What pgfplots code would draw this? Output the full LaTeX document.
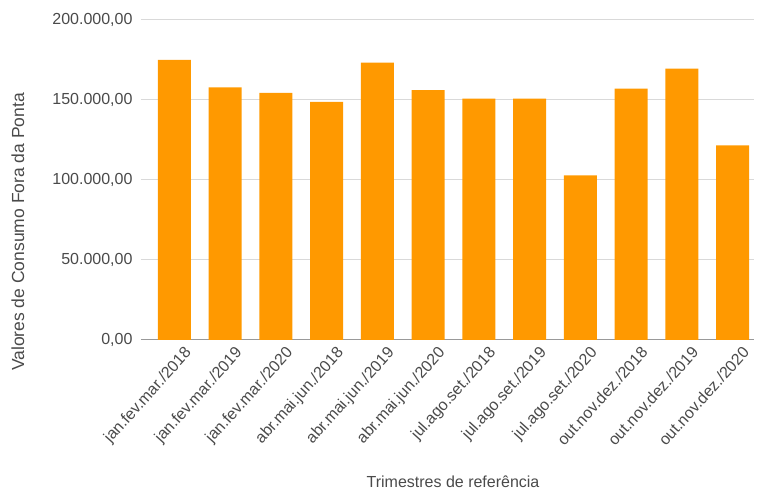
\documentclass[border=0pt]{standalone}
\usepackage{pgfplots}
\pgfplotsset{compat=1.18}
\usepackage{fontspec}
\setmainfont{Liberation Sans}
\definecolor{barorange}{HTML}{FF9900}
\definecolor{gridgray}{HTML}{D9D9D9}
\definecolor{axisgray}{HTML}{999999}
\definecolor{txtgray}{HTML}{4A4A4A}
\begin{document}
\begin{tikzpicture}
\useasboundingbox (-141pt,-154pt) rectangle (617pt,340pt);
\begin{axis}[
  at={(0pt,0pt)}, anchor=south west,
  scale only axis, width=613pt, height=320pt,
  ybar, bar width=0.65, bar shift=0pt,
  xmin=-0.66, xmax=11.42,
  ymin=0, ymax=200000,
  scaled y ticks=false,
  ytick={0,50000,100000,150000,200000},
  yticklabels={{0,00},{50.000,00},{100.000,00},{150.000,00},{200.000,00}},
  xtick={0,...,11},
  xticklabels={jan.fev.mar./2018,jan.fev.mar./2019,jan.fev.mar./2020,abr.mai.jun./2018,abr.mai.jun./2019,abr.mai.jun./2020,jul.ago.set./2018,jul.ago.set./2019,jul.ago.set./2020,out.nov.dez./2018,out.nov.dez./2019,out.nov.dez./2020},
  major tick length=0pt,
  ymajorgrids, grid style={gridgray, line width=1pt},
  axis x line*=bottom, axis y line*=left,
  x axis line style={axisgray, line width=1pt, -},
  y axis line style={draw=none},
  yticklabel style={font=\fontsize{16}{19}\selectfont, text=txtgray, xshift=-5pt},
  xticklabel style={font=\fontsize{16}{19}\selectfont, text=txtgray, rotate=48, anchor=north east, inner sep=2pt, yshift=-8pt, xshift=4pt},
  xlabel={Trimestres de referência},
  ylabel={Valores de Consumo Fora da Ponta},
  xlabel style={font=\fontsize{16}{19}\selectfont, text=txtgray, at={(axis description cs:0.509,-0.444)}, anchor=center},
  ylabel style={font=\fontsize{17.5}{20}\selectfont, text=txtgray, at={(axis description cs:-0.2007,0.3375)}, anchor=center},
  /pgf/number format/assume math mode=true,
  clip=false,
]
\addplot[fill=barorange, draw=none] coordinates {
(0,175000) (1,157900) (2,154400) (3,148900) (4,173400) (5,156200)
(6,150800) (7,150800) (8,102900) (9,157100) (10,169600) (11,121700)};
\end{axis}
\end{tikzpicture}
\end{document}
